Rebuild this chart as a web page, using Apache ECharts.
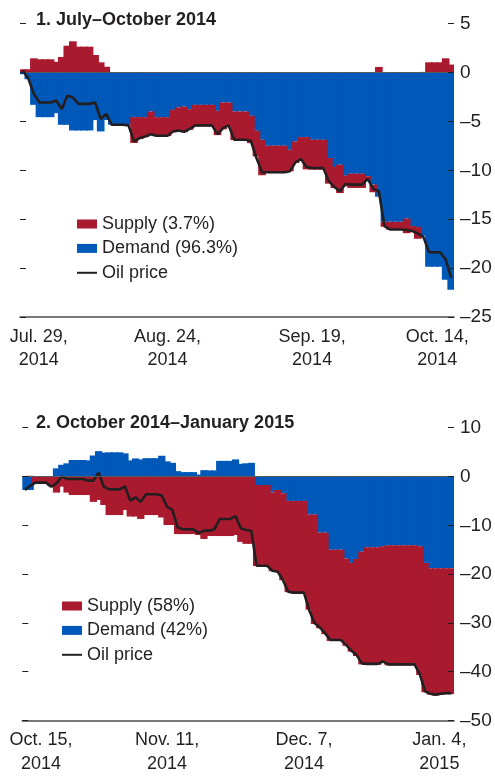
<!DOCTYPE html>
<html><head><meta charset="utf-8">
<script src="https://cdn.jsdelivr.net/npm/echarts@6/dist/echarts.min.js"></script>
<style>html,body{margin:0;padding:0;background:#fff}#c{width:495px;height:777px}</style>
</head><body><div id="c"></div>
<script>
// ---------- Panel 1: July–October 2014 (daily, calendar days) ----------
const start1 = '2014-07-29';
const tickDates1 = ['2014-07-29','2014-08-24','2014-09-19','2014-10-14'];
const tickLabels1 = ['Jul. 29,\n2014','Aug. 24,\n2014','Sep. 19,\n2014','Oct. 14,\n2014'];
const supply1 = [0.34,0.34,1.46,1.36,1.36,1.36,1.1,1.6,2.75,3.2,2.65,2.65,2.65,1.8,1.05,0.6,0,0,0,0,
  -2.64,-2.24,-2.04,-2.42,-1.94,-1.94,-1.94,-2.29,-2.43,-2.63,-2.11,-2.2,-2.2,-2.2,-2.2,-2.49,-2.74,-2.44,-2.92,-2.92,
  -2.89,-2.8,-2.62,-3.63,-2.79,-2.8,-2.8,-2.8,-2.2,-2.2,-2.3,-3.3,-3.06,-3.06,-3.06,-2.62,-2.14,-2.9,-1.09,-1.46,
  -1.46,-1.46,-0.35,-0.78,0.58,-0.5,-0.8,-0.8,-0.8,-1.5,-0.5,-1.2,0.07,1.05,1.05,1.05,1.46,0.82];
const demand1 = [-0.17,-0.68,-3.3,-4.56,-4.56,-4.56,-4.15,-5.34,-5.34,-5.92,-5.92,-5.92,-5.92,-4.86,-6.02,-4.85,-5.34,-5.34,-5.34,-5.34,
  -4.56,-4.56,-4.56,-3.98,-4.56,-4.56,-4.56,-3.81,-3.57,-3.47,-3.74,-3.3,-3.3,-3.3,-3.3,-3.91,-3.06,-3.06,-3.98,-3.98,
  -3.98,-4.42,-5.95,-6.87,-7.48,-7.48,-7.48,-7.48,-7.9,-7.04,-6.6,-6.6,-6.87,-6.87,-6.87,-8.74,-9.66,-9.42,-10.54,-10.34,
  -10.34,-10.34,-10.6,-11.46,-12.7,-15.27,-15.27,-15.27,-15.27,-14.93,-15.7,-15.8,-16.7,-19.86,-19.86,-19.86,-21.2,-22.2];
const oil1 = [0.2,-0.6,-2.2,-3.06,-3.06,-3.06,-2.86,-3.74,-2.38,-2.55,-3.2,-3.2,-3.2,-3.06,-4.76,-4.22,-5.34,-5.34,-5.34,-5.4,
  -7.04,-6.7,-6.53,-6.3,-6.46,-6.46,-6.46,-6.02,-5.92,-6.05,-5.75,-5.4,-5.4,-5.4,-5.4,-6.3,-5.68,-5.4,-6.87,-6.87,
  -6.87,-7.0,-8.74,-10.2,-10.2,-10.2,-10.2,-10.2,-10.1,-9.18,-8.84,-9.66,-9.76,-9.76,-9.76,-11.1,-11.7,-12.14,-11.4,-11.46,
  -11.46,-11.46,-10.88,-11.9,-12.14,-15.7,-16.05,-16.05,-16.05,-16.1,-16.2,-16.46,-16.8,-18.37,-18.37,-18.37,-19.1,-21.0];

// ---------- Panel 2: October 2014–January 2015 ----------
const start2 = '2014-10-15';
const tickDates2 = ['2014-10-15','2014-11-11','2014-12-07','2015-01-04'];
const tickLabels2 = ['Oct. 15,\n2014','Nov. 11,\n2014','Dec. 7,\n2014','Jan. 4,\n2015'];
const supply2 = [0,0.15,-1.3,-1.3,-1.3,-2.0,-3.3,-2.08,-3.3,-3.8,-3.8,-3.8,-3.8,-5.2,-4.8,-5.84,-7.9,-7.9,-7.9,-6.86,
  -8.2,-8.2,-8.7,-7.9,-7.9,-7.9,-8.4,-9.94,-9.94,-11.8,-11.8,-11.8,-11.8,-12.0,-12.8,-12.2,-12.2,-12.2,-12.2,-12.2,
  -12.0,-13.4,-13.8,-13.8,-16.6,-16.6,-16.6,-16.1,-16.8,-17.8,-18.7,-18.9,-18.9,-18.9,-19.5,-22.4,-19.6,-20.8,-18.7,-18.7,
  -18.7,-17.9,-18.2,-19.9,-23.1,-24.1,-24.1,-24.1,-23.8,-24.6,-24.6,-24.6,-24.6,-24.6,-24.6,-26.4,-26.5,-25.9,-26.1,-25.9,-25.8,-25.8];
const demand2 = [-2.77,-2.77,0,0,0,0,1.67,2.4,2.7,3.38,3.38,3.38,3.3,4.3,5.2,4.9,4.95,4.95,4.95,4.75,
  3.3,3.7,3.5,3.75,3.75,3.75,4.25,3.1,2.8,1.1,0.9,0.9,0.9,0.4,1.3,1.25,1.25,3.2,3.2,3.2,
  3.5,2.6,2.7,2.8,-1.74,-1.74,-1.74,-3.3,-2.77,-3.45,-5.0,-5.0,-5.0,-5.0,-7.8,-7.8,-11.5,-11.5,-15.0,-15.0,
  -15.0,-16.8,-17.7,-16.9,-15.4,-14.5,-14.5,-14.5,-14.3,-14.1,-14.1,-14.1,-14.1,-14.1,-14.1,-14.3,-17.7,-18.8,-18.8,-18.8,-18.8,-18.8];
const oil2 = [-2.77,-1.9,-1.26,-1.26,-1.26,-2.08,-1.4,0,-0.5,-0.5,-0.5,-0.5,-0.85,-0.85,0.8,-2.1,-2.63,-2.63,-2.63,-2.0,
  -4.95,-4.27,-5.16,-3.65,-3.65,-3.65,-3.9,-6.2,-6.86,-10.4,-10.8,-10.8,-10.8,-11.6,-11.1,-11.1,-10.8,-8.7,-8.7,-8.7,
  -8.1,-10.6,-10.96,-11.1,-18.3,-18.3,-18.3,-19.3,-19.5,-21.2,-23.6,-23.8,-23.8,-23.8,-27.4,-30.0,-30.9,-32.1,-33.5,-33.5,
  -33.5,-34.5,-35.7,-36.6,-38.3,-38.4,-38.4,-38.4,-37.9,-38.5,-38.5,-38.5,-38.5,-38.5,-38.5,-40.5,-44.0,-44.5,-44.7,-44.5,-44.4,-44.4];

const names1 = ['Supply (3.7%)','Demand (96.3%)','Oil price'];
const names2 = ['Supply (58%)','Demand (42%)','Oil price'];

// ---------- styling ----------
const FONT = "'Liberation Sans',Arial,Helvetica,sans-serif";
const INK = '#231f20';
const RED = '#aa1a2e';
const BLUE = '#0058b8';
const AXIS = '#4d4d4f';
const FS = 18;

function dayList(start, n) {
  const out = [];
  const t0 = Date.parse(start + 'T00:00:00Z');
  for (let i = 0; i < n; i++) out.push(new Date(t0 + i * 86400000).toISOString().slice(0, 10));
  return out;
}
const cats1 = dayList(start1, supply1.length);
const cats2 = dayList(start2, supply2.length);
const nz = a => a.map(v => (v === 0 ? null : v));

const baseText = {fontFamily: FONT, fontSize: FS, color: INK, lineHeight: 23.5};

function xAxisFor(gridIndex, cats, tDates, tLabels, padL, padR) {
  const idx = tDates.map(d => cats.indexOf(d));
  return {
    type: 'category', gridIndex, data: cats, boundaryGap: true,
    axisLine: {onZero: false, lineStyle: {color: AXIS, width: 1.5}},
    axisTick: {alignWithLabel: true, inside: true, length: 5, interval: i => idx.includes(i),
      lineStyle: {color: AXIS, width: 1.5}},
    axisLabel: {
      interval: i => idx.includes(i), margin: 8, ...baseText,
      formatter: v => {
        const k = tDates.indexOf(v);
        const key = k === 0 ? 'f' : (k === tDates.length - 1 ? 'l' : 'm');
        return tLabels[k].split('\n').map(s => '{' + key + '|' + s + '}').join('\n');
      },
      rich: {
        f: {...baseText, padding: [0, 0, 0, padL]},
        l: {...baseText, padding: [0, padR, 0, 0]},
        m: {...baseText}
      }
    },
    splitLine: {show: false}
  };
}

function yAxesFor(gridIndex, min, max, interval) {
  const common = {type: 'value', gridIndex, min, max, interval, z: 5,
    splitLine: {show: false}, axisLine: {show: false},
    axisTick: {show: true, inside: true, length: 6, lineStyle: {color: INK, width: 1}}};
  return [
    {...common, position: 'left', axisLabel: {show: false}},
    {...common, position: 'right', axisLabel: {margin: 6, fontFamily: FONT, fontSize: 19, color: INK,
      formatter: v => (v < 0 ? '\u2013' + Math.abs(v) : String(v))}}
  ];
}

function seriesFor(xi, yi, stack, names, sup, dem, oil) {
  return [
    {name: names[1], type: 'bar', xAxisIndex: xi, yAxisIndex: yi, stack, data: nz(dem),
      barCategoryGap: '-38%', itemStyle: {color: BLUE}, z: 2,
      markLine: {silent: true, symbol: 'none', label: {show: false},
        lineStyle: {color: '#5a5a5c', width: 1, type: 'solid'}, data: [{yAxis: 0}]}},
    {name: names[0], type: 'bar', xAxisIndex: xi, yAxisIndex: yi, stack, data: nz(sup),
      barCategoryGap: '-38%', itemStyle: {color: RED}, z: 2},
    {name: names[2], type: 'line', xAxisIndex: xi, yAxisIndex: yi, data: oil,
      symbol: 'none', lineStyle: {color: INK, width: 2.6}, itemStyle: {color: INK}, z: 4}
  ];
}

function legendFor(left, top, names) {
  return {
    orient: 'vertical', left, top, padding: 0, itemWidth: 20, itemHeight: 9, itemGap: 0.4,
    selectedMode: false,
    textStyle: {fontFamily: FONT, fontSize: FS, color: INK, lineHeight: 24},
    data: [{name: names[0], icon: 'rect'}, {name: names[1], icon: 'rect'},
      {name: names[2], itemStyle: {opacity: 0}}]
  };
}

const titleStyle = {fontFamily: FONT, fontSize: FS, fontWeight: 'bold', color: INK};

const chart = echarts.init(document.getElementById('c'), null, {renderer: 'canvas'});
chart.setOption({
  animation: false,
  backgroundColor: '#fff',
  title: [
    {text: '1. July\u2013October 2014', left: 36, top: 11, padding: 0, textStyle: titleStyle},
    {text: '2. October 2014\u2013January 2015', left: 36, top: 414, padding: 0, textStyle: titleStyle}
  ],
  legend: [legendFor(76, 212, names1), legendFor(61, 594, names2)],
  grid: [
    {left: 20, right: 41, top: 23.7, height: 293.3, containLabel: false, outerBoundsMode: 'none'},
    {left: 22.3, right: 41, top: 427.7, height: 292.8, containLabel: false, outerBoundsMode: 'none'}
  ],
  xAxis: [
    xAxisFor(0, cats1, tickDates1, tickLabels1, 32, 28),
    xAxisFor(1, cats2, tickDates2, tickLabels2, 32, 24)
  ],
  yAxis: [...yAxesFor(0, -25, 5, 5), ...yAxesFor(1, -50, 10, 10)],
  series: [
    ...seriesFor(0, 1, 'p1', names1, supply1, demand1, oil1),
    ...seriesFor(1, 3, 'p2', names2, supply2, demand2, oil2)
  ]
});
</script></body></html>
